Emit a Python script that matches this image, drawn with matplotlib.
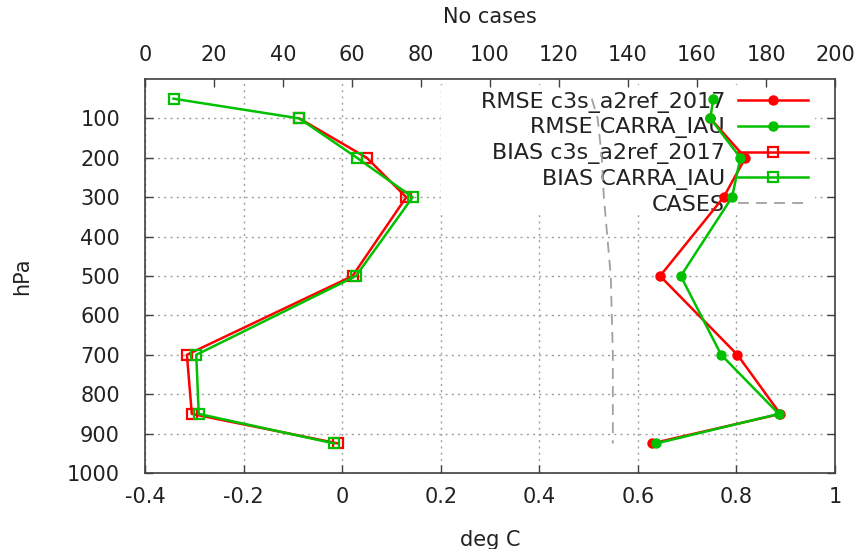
import matplotlib
matplotlib.use('Agg')
import numpy as np
import matplotlib.pyplot as plt
from matplotlib.patches import Rectangle

# pressure levels (hPa)
levels = [50, 100, 200, 300, 500, 700, 850, 925]

# deg C (nan = no point drawn)
rmse_c3s = [np.nan, 0.747, 0.818, 0.774, 0.645, 0.802, 0.889, 0.628]
rmse_carra = [0.753, 0.747, 0.808, 0.791, 0.687, 0.769, 0.886, 0.637]
bias_c3s = [np.nan, -0.087, 0.050, 0.130, 0.021, -0.315, -0.305, -0.008]
bias_carra = [-0.342, -0.087, 0.030, 0.143, 0.028, -0.296, -0.291, -0.016]

# number of cases (top axis)
cases = [129.5, 131.2, 132.4, 133.0, 135.0, 135.6, 135.6, 135.6]

x_ticks = [-0.4, -0.2, 0, 0.2, 0.4, 0.6, 0.8, 1]
x_ticklabels = ['-0.4', '-0.2', '0', '0.2', '0.4', '0.6', '0.8', '1']
y_ticks = [100, 200, 300, 400, 500, 600, 700, 800, 900, 1000]
case_ticks = [0, 20, 40, 60, 80, 100, 120, 140, 160, 180, 200]

RED = '#ff0000'
GREEN = '#00c000'
GRAY = '#a0a0a0'
FS = 15

plt.rcParams['font.family'] = ['DejaVu Sans']
plt.rcParams['text.color'] = '#222222'
plt.rcParams['xtick.color'] = '#404040'
plt.rcParams['ytick.color'] = '#404040'
plt.rcParams['xtick.labelcolor'] = '#222222'
plt.rcParams['ytick.labelcolor'] = '#222222'

fig = plt.figure(figsize=(8.59, 5.49), dpi=100)
ax = fig.add_axes([0.1688, 0.1384, 0.8033, 0.7177])

l1, = ax.plot(rmse_c3s, levels, color=RED, lw=1.8, marker='o', ms=6.5,
              label='RMSE c3s_a2ref_2017', zorder=3)
l2, = ax.plot(rmse_carra, levels, color=GREEN, lw=1.8, marker='o', ms=6.5,
              label='RMSE CARRA_IAU', zorder=3)
l3, = ax.plot(bias_c3s, levels, color=RED, lw=1.8, marker='s', ms=7,
              mfc='none', mew=1.6, label='BIAS c3s_a2ref_2017', zorder=3)
l4, = ax.plot(bias_carra, levels, color=GREEN, lw=1.8, marker='s', ms=7,
              mfc='none', mew=1.6, label='BIAS CARRA_IAU', zorder=3)

ax.set_xlim(-0.4, 1)
ax.set_ylim(1000, 0)
ax.set_xticks(x_ticks)
ax.set_xticklabels(x_ticklabels)
ax.set_yticks(y_ticks)
ax.tick_params(direction='in', length=6, width=1, labelsize=FS, right=True, top=False)
ax.tick_params(axis='x', pad=10)
ax.tick_params(axis='y', pad=18)
ax.grid(True, color=GRAY, linestyle=(0, (1.5, 3)), linewidth=1)
ax.set_axisbelow(True)
for s in ax.spines.values():
    s.set_color('#404040')
    s.set_linewidth(1.2)

# top axis for number of cases
tw = ax.twiny()
l5, = tw.plot(cases, levels, color=GRAY, lw=1.3, linestyle=(0, (6, 4)),
              label='CASES', zorder=4)
tw.set_xlim(0, 200)
tw.set_xticks(case_ticks)
tw.tick_params(direction='in', length=6, width=1, labelsize=FS, pad=10)
for s in tw.spines.values():
    s.set_visible(False)

# opaque key area (hides grid, sits under the data lines)
ax.add_patch(Rectangle((0.429, 0.655), 0.542, 0.33, transform=ax.transAxes,
                       facecolor='white', edgecolor='none', zorder=1.5))

leg = ax.legend(handles=[l1, l2, l3, l4, l5], loc='upper right',
                bbox_to_anchor=(0.971, 0.985), borderaxespad=0, markerfirst=False,
                fontsize=16, handlelength=3.15, handletextpad=0.6, labelspacing=0.22,
                borderpad=0.3, frameon=False)
leg.set_zorder(1.6)
# right-align legend rows like gnuplot's key
for col in leg._legend_handle_box.get_children():
    col.align = 'right'

fig.text(490 / 859, 1 - 17 / 549, 'No cases', ha='center', va='center', fontsize=FS)
fig.text(490 / 859, 1 - 540 / 549, 'deg C', ha='center', va='center', fontsize=FS)
fig.text(22 / 859, 1 - 276 / 549, 'hPa', ha='center', va='center', rotation=90, fontsize=FS)

fig.savefig('out.png', dpi=100)
